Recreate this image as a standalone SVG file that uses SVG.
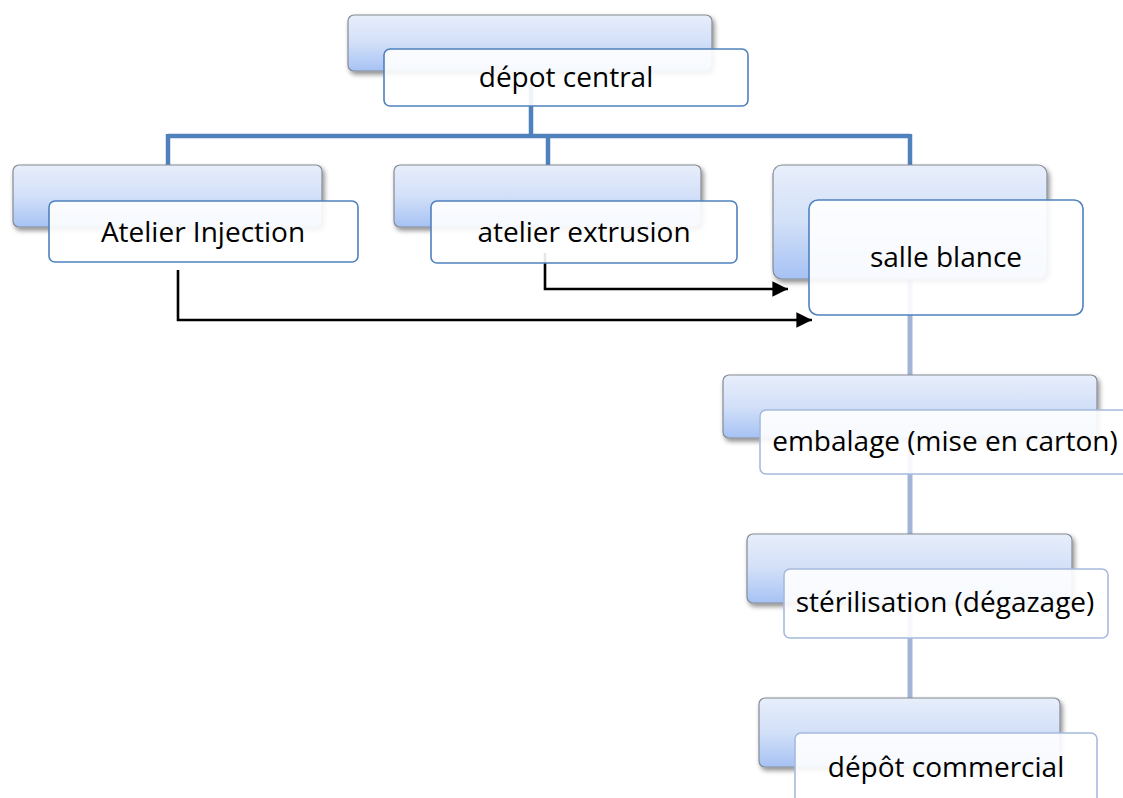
<svg xmlns="http://www.w3.org/2000/svg" width="1123" height="798" viewBox="0 0 1123 798">
  <defs>
    <linearGradient id="backFill" x1="0" y1="0" x2="0" y2="1">
      <stop offset="0" stop-color="#e8eefb"/>
      <stop offset="0.5" stop-color="#d2e0f8"/>
      <stop offset="1" stop-color="#a6c2f4"/>
    </linearGradient>
    <filter id="shadow" x="-10%" y="-20%" width="125%" height="150%">
      <feGaussianBlur in="SourceAlpha" stdDeviation="2.5"/>
      <feOffset dx="2" dy="3" result="b"/>
      <feComponentTransfer><feFuncA type="linear" slope="0.45"/></feComponentTransfer>
      <feMerge><feMergeNode/><feMergeNode in="SourceGraphic"/></feMerge>
    </filter>
    <marker id="arrow" viewBox="0 0 10 10" refX="10" refY="5" markerWidth="6" markerHeight="6" markerUnits="strokeWidth" orient="auto">
      <path d="M0,0 L10,5 L0,10 z" fill="#000"/>
    </marker>
  </defs>
  <style>
    .back { fill: url(#backFill); stroke: #858b94; stroke-width: 1.2; filter: url(#shadow); }
    .front { fill: #ffffff; fill-opacity: 0.9; stroke: #4f81bd; stroke-width: 1.6; }
    .front2 { fill: #ffffff; fill-opacity: 0.9; stroke: #a7badc; stroke-width: 1.6; }
    .label { font-family: "Open Sans", "Liberation Sans", sans-serif; font-size: 28px; fill: #000; text-anchor: middle; }
    .tree { fill: none; stroke: #4f81bd; stroke-width: 4.5; }
    .chain { fill: none; stroke: #a3b5d6; stroke-width: 5; }
    .flow { fill: none; stroke: #000; stroke-width: 2.6; marker-end: url(#arrow); }
  </style>
  <rect width="1123" height="798" fill="#ffffff"/>

  <!-- hierarchy and flow connectors -->
  <g id="connectors">
    <path class="tree" d="M531,84 V136 M168,136 H910 M168,134 V166 M548,134 V166 M910,134 V166"/>
    <path class="chain" d="M910,279 V375 M910,438 V534 M910,603 V698"/>
    <path class="flow" d="M545,253 V289 H788"/>
    <path class="flow" d="M178,270 V320 H812"/>
  </g>

  <g id="depot-central">
    <rect class="back" x="348" y="15" width="364" height="56" rx="6"/>
    <rect class="front" x="384" y="49" width="364" height="57" rx="6"/>
    <text class="label" x="566" y="87">dépot central</text>
  </g>

  <g id="atelier-injection">
    <rect class="back" x="13" y="165" width="309" height="62" rx="6"/>
    <rect class="front" x="49" y="201" width="309" height="61" rx="6"/>
    <text class="label" x="203" y="242">Atelier Injection</text>
  </g>

  <g id="atelier-extrusion">
    <rect class="back" x="394" y="165" width="307" height="62" rx="6"/>
    <rect class="front" x="431" y="201" width="306" height="62" rx="6"/>
    <text class="label" x="584" y="242">atelier extrusion</text>
  </g>

  <g id="salle-blanche">
    <rect class="back" x="773" y="165" width="274" height="114" rx="9"/>
    <rect class="front" x="809" y="200" width="274" height="115" rx="9"/>
    <text class="label" x="946" y="267">salle blance</text>
  </g>

  <g id="emballage">
    <rect class="back" x="723" y="375" width="374" height="63" rx="6"/>
    <rect class="front2" x="760" y="410" width="380" height="64" rx="6"/>
    <text class="label" x="945" y="451">embalage (mise en carton)</text>
  </g>

  <g id="sterilisation">
    <rect class="back" x="747" y="534" width="325" height="69" rx="6"/>
    <rect class="front2" x="784" y="569" width="324" height="69" rx="6"/>
    <text class="label" x="945" y="612">stérilisation (dégazage)</text>
  </g>

  <g id="depot-commercial">
    <rect class="back" x="759" y="698" width="301" height="69" rx="6"/>
    <rect class="front2" x="795" y="733" width="302" height="80" rx="6"/>
    <text class="label" x="946" y="777">dépôt commercial</text>
  </g>
</svg>
